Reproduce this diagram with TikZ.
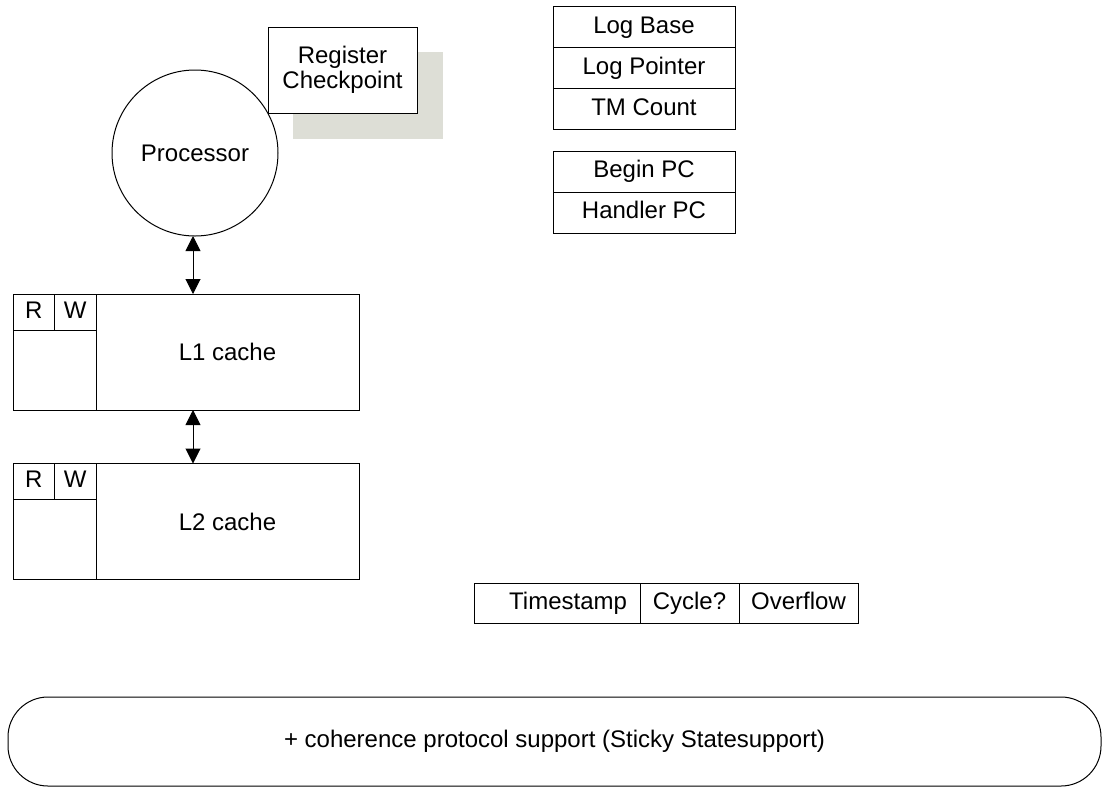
\documentclass[tikz,border=0pt]{standalone}
\usepackage{fontspec}
\setmainfont{Liberation Sans}
\usepackage{tikz}
\usetikzlibrary{arrows.meta,positioning}
\definecolor{shadowgray}{RGB}{221,222,214}

\begin{document}
\begin{tikzpicture}[
    x=0.5pt, y=-0.5pt,
    every node/.style={font=\fontsize{12}{12.5}\selectfont, inner sep=0pt, outer sep=0pt},
    box/.style={rectangle, draw, line width=0.5pt, align=center},
    oneline/.style={text height=8.7pt, text depth=2.5pt},
    reg/.style={box, oneline, minimum width=91pt, minimum height=20.5pt},
    cache/.style={box, minimum width=131.5pt, minimum height=58pt},
    tagcol/.style={box, minimum width=41.5pt, minimum height=58pt},
    bit/.style={box, oneline, minimum width=20.75pt, minimum height=18pt},
    field/.style={box, oneline, minimum height=20pt},
    dbl/.style={{Triangle[length=7.5pt,width=7.5pt]}-{Triangle[length=7.5pt,width=7.5pt]}, line width=0.5pt}
]
\useasboundingbox (0,0) rectangle (1102,788);

% processor and checkpoint
\node[circle, draw, line width=0.5pt, minimum size=83pt] (proc) at (195,153) {Processor};
\node[rectangle, fill=shadowgray, minimum width=75pt, minimum height=43.5pt] (ckshadow) at (368,95.5) {};
\node[box, fill=white, minimum width=74.5pt, minimum height=43pt] (ckpt) at (342.5,70) {Register\\Checkpoint};

% caches with R/W bits
\node[cache] (l1) at (227.5,352) {L1 cache};
\node[tagcol, left=0pt of l1] (l1tag) {};
\node[bit, anchor=north west] (l1r) at (l1tag.north west) {R};
\node[bit, right=0pt of l1r] (l1w) {W};

\node[cache] (l2) at (227.5,521.5) {L2 cache};
\node[tagcol, left=0pt of l2] (l2tag) {};
\node[bit, anchor=north west] (l2r) at (l2tag.north west) {R};
\node[bit, right=0pt of l2r] (l2w) {W};

\draw[dbl] (proc.south -| 193,0) -- (l1.north -| 193,0);
\draw[dbl] (l1.south -| 193,0) -- (l2.north -| 193,0);

% transaction registers
\node[reg] (logbase) at (644,27) {Log Base};
\node[reg, below=0pt of logbase] (logptr) {Log Pointer};
\node[reg, below=0pt of logptr] (tmcount) {TM Count};

\node[reg] (beginpc) at (644,171.5) {Begin PC};
\node[reg, below=0pt of beginpc] (handlerpc) {Handler PC};

% timestamp register
\node[field, minimum width=83pt, text width=70pt, align=right] (tstamp) at (557,603) {Timestamp};
\node[field, minimum width=49.5pt, right=0pt of tstamp] (cycle) {Cycle?};
\node[field, minimum width=59.5pt, right=0pt of cycle] (overflow) {Overflow};

% coherence support
\node[box, rounded corners=20pt, minimum width=546.5pt, minimum height=44.5pt] (coh) at (554.5,741.5) {+ coherence protocol support (Sticky Statesupport)};
\end{tikzpicture}
\end{document}
